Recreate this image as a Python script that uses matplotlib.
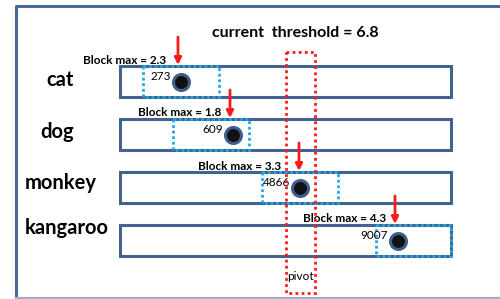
"""Pivot / block-max diagram redrawn in pixel coordinates."""
import matplotlib
matplotlib.use("Agg")
import matplotlib.pyplot as plt
from matplotlib.patches import Rectangle

plt.rcParams["font.family"] = ["Lato", "DejaVu Sans"]

# ---- data ----
animals = ["cat", "dog", "monkey", "kangaroo"]
block_max = [2.3, 1.8, 3.3, 4.3]
counts = [273, 609, 4866, 9007]
threshold = 6.8

# ---- layout (pixels) ----
BAR_X0, BAR_X1 = 120, 451
bar_top = [66, 119, 172, 225]
BAR_H = 31
block_x = [(143, 219), (173, 249), (262, 338), (376, 451)]
dot_x = [181, 233, 300, 398]
arrow_x = [178, 230, 299, 395]
label_x = [60, 57, 61, 67]
label_dy = [14, 13, 11, 3]
bmax_x = [125, 180, 240, 345]
PIVOT = (286, 52, 315, 293)
FRAME, RED, CYAN = "#44628e", "#ff1a1a", "#1fa8e6"

fig = plt.figure(figsize=(5, 2.99), dpi=100)
ax = fig.add_axes([0, 0, 1, 1])
ax.set_xlim(0, 500); ax.set_ylim(299, 0); ax.axis("off")

# outer frame (right side runs off the canvas)
ax.plot([530, 16, 16], [6, 6, 298], color="#4a6a96", lw=2.2, solid_capstyle="butt")
ax.plot([16, 500], [298, 298], color="#9fb2cc", lw=1.6)

ax.text(295, 33, f"current  threshold = {threshold}", fontsize=11.5, weight="bold",
        ha="center", va="center")

for i, name in enumerate(animals):
    y0 = bar_top[i]
    yc = y0 + BAR_H / 2
    ax.add_patch(Rectangle((BAR_X0, y0), BAR_X1 - BAR_X0, BAR_H, fc="white",
                           ec=FRAME, lw=2.2, zorder=2))
    bx0, bx1 = block_x[i]
    ax.add_patch(Rectangle((bx0, y0), bx1 - bx0, BAR_H, fill=False, ec=CYAN,
                           lw=2, ls=(0, (1, 1)), zorder=3))
    ax.plot(dot_x[i], yc, "o", ms=11.5, mfc="#111111", mec="#3e5f8c", mew=2.2, zorder=4)
    ax.text(dot_x[i] - 10, yc - 5, str(counts[i]), fontsize=8.5, ha="right", va="center",
            zorder=5)
    ax.text(bmax_x[i], y0 - 6, f"Block max = {block_max[i]}", fontsize=8.5, weight="bold",
            ha="center", va="center")
    ax.annotate("", xy=(arrow_x[i], y0 - 1), xytext=(arrow_x[i], y0 - 29),
                arrowprops=dict(arrowstyle="-|>", color=RED, lw=2, mutation_scale=10,
                                shrinkA=0, shrinkB=0), zorder=6)
    ax.text(label_x[i], y0 + label_dy[i], name, fontsize=14.5, weight="bold",
            ha="center", va="center")

px0, py0, px1, py1 = PIVOT
ax.add_patch(Rectangle((px0, py0), px1 - px0, py1 - py0, fill=False, ec=RED, lw=2,
                       ls=(0, (1, 1.2)), zorder=5))
ax.text((px0 + px1) / 2, 277, "pivot", fontsize=8.5, ha="center", va="center", zorder=5)

fig.savefig("out.png", dpi=100)
